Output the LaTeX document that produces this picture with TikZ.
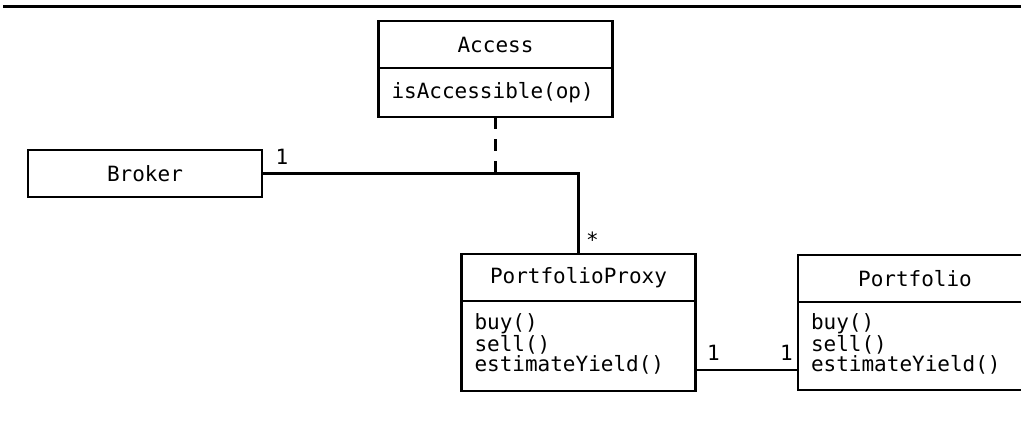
\documentclass[tikz,border=0pt]{standalone}
\usepackage{fontspec}
\setmonofont{DejaVu Sans Mono}
\usetikzlibrary{positioning,calc}
\tikzset{clshead/.style={draw,line width=2.7pt,outer sep=0pt,inner sep=0pt,minimum width=234pt,minimum height=47pt,font=\ttfamily\fontsize{21}{17.5}\selectfont}}
\tikzset{clsbody/.style={draw,line width=2.7pt,outer sep=0pt,inner sep=0pt,minimum width=234pt}}
\tikzset{ops/.style={align=left,inner sep=0pt,outer sep=0pt,font=\ttfamily\fontsize{21}{17.5}\selectfont}}
\tikzset{mult/.style={inner sep=0pt,font=\ttfamily\fontsize{21}{17.5}\selectfont}}
\tikzset{assoc/.style={line width=2.7pt}}

\begin{document}
\begin{tikzpicture}[x=1pt,y=-1pt]
	\useasboundingbox (0,0) rectangle (1021,423);
	\clip (0,0) rectangle (1021,423);
	\coordinate (r0) at (3,6);
	\coordinate (r1) at (1021,6);
	\draw[line width=3pt] (r0)--(r1);

	\node[clshead] (accH) at (495.5,44.5) {Access};
	\node[clsbody,minimum height=49pt,below=0pt of accH] (accB) {};
	\node[ops,right=13pt of accB.west] (accO) {isAccessible(op)};

	\node[clshead] (broker) at (145,173.5) {Broker};

	\node[clshead] (pprH) at (578.5,277.5) {PortfolioProxy};
	\node[clsbody,minimum height=90pt,below=0pt of pprH] (pprB) {};
	\node[ops,below right=13pt and 13pt of pprB.north west] (pprO) {buy()\\sell()\\estimateYield()};

	\node[clshead] (pfH) at (915,278.5) {Portfolio};
	\node[clsbody,minimum height=88pt,below=0pt of pfH] (pfB) {};
	\node[ops,below right=12pt and 13pt of pfB.north west] (pfO) {buy()\\sell()\\estimateYield()};

	\coordinate (jn) at (accB.south |- broker.east);
	\draw[assoc] (broker.east) -| (pprH.north);
	\draw[assoc,dash pattern=on 12pt off 10pt] (accB.south) -- (jn);
	\node[mult] (m1) at ($(broker.east)+(20,-17)$) {1};
	\node[mult] (m2) at ($(pprH.north)+(14,-14)$) {*};

	\coordinate (l1) at ($(pprB.south east)+(0,-21)$);
	\coordinate (l2) at (l1 -| pfB.west);
	\draw[assoc] (l1) -- (l2);
	\node[mult] (m3) at ($(l1)+(18,-17)$) {1};
	\node[mult] (m4) at ($(l2)+(-11.5,-17)$) {1};
\end{tikzpicture}
\end{document}
